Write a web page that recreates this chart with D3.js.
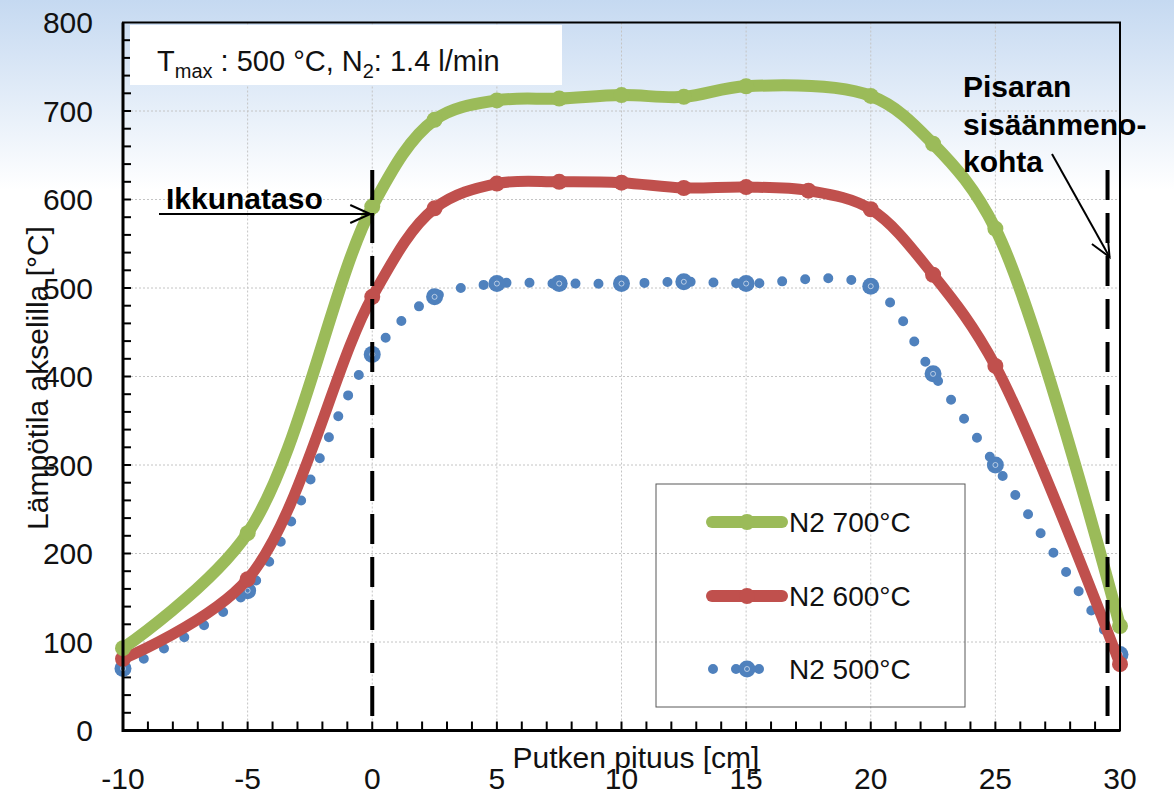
<!DOCTYPE html>
<html>
<head>
<meta charset="utf-8">
<script src="https://cdn.jsdelivr.net/npm/d3@7"></script>
<style>
    html, body { margin: 0; padding: 0; background: #fff; }
    svg { display: block; font-family: "Liberation Sans", Arial, sans-serif; }
</style>
</head>
<body>
<svg id="chart" width="1174" height="795"></svg>
<script>
var x700 = [-10, -5, 0, 2.5, 5, 7.5, 10, 12.5, 15, 20, 22.5, 25, 30];
var t700 = [93, 223, 592, 690, 712, 714, 718, 716, 728, 717, 663, 567, 118];

var x600 = [-10, -5, 0, 2.5, 5, 7.5, 10, 12.5, 15, 17.5, 20, 22.5, 25, 30];
var t600 = [81, 171, 490, 590, 618, 620, 619, 613, 614, 610, 589, 515, 412, 75];

var x500 = [-10, -5, 0, 2.5, 5, 7.5, 10, 12.5, 15, 20, 22.5, 25, 30];
var t500 = [70, 158, 425, 490, 505, 505, 505, 507, 505, 502, 403, 300, 86];

var seriesNames = ["N2 700°C", "N2 600°C", "N2 500°C"];
var xTicks = [-10, -5, 0, 5, 10, 15, 20, 25, 30];
var yTicks = [0, 100, 200, 300, 400, 500, 600, 700, 800];
var markLines = [0, 29.5];   // ikkunataso, pisaran sisäänmenokohta

(function() {
    var svg = d3.select("#chart");

    var left = 123, right = 1120, top = 22.5, bottom = 730.5;

    var x = d3.scaleLinear().domain([-10, 30]).range([left, right]);
    var y = d3.scaleLinear().domain([0, 800]).range([bottom, top]);

    var defs = svg.append("defs");

    var grad = defs.append("linearGradient")
        .attr("id", "bg")
        .attr("x1", 0).attr("y1", 0)
        .attr("x2", 0).attr("y2", 1);
    grad.append("stop").attr("offset", "0").attr("stop-color", "#c5d9f1");
    grad.append("stop").attr("offset", "0.24").attr("stop-color", "#ffffff");
    grad.append("stop").attr("offset", "1").attr("stop-color", "#ffffff");

    defs.append("marker")
        .attr("id", "arrow")
        .attr("markerUnits", "userSpaceOnUse")
        .attr("markerWidth", 30).attr("markerHeight", 30)
        .attr("viewBox", "-25 -15 30 30")
        .attr("refX", 0).attr("refY", 0)
        .attr("orient", "auto")
        .append("path")
        .attr("d", "M-20,-9L0,0L-20,9")
        .attr("fill", "none")
        .attr("stroke", "#000")
        .attr("stroke-width", 2);

    svg.append("rect")
        .attr("width", 1174).attr("height", 795)
        .attr("fill", "url(#bg)");

    // grid
    var grid = svg.append("g")
        .attr("stroke", "#c4c4c4")
        .attr("stroke-width", 1)
        .attr("stroke-dasharray", "2,2");

    grid.selectAll("line.gx")
        .data(xTicks.slice(1, -1))
        .enter().append("line")
        .attr("x1", d => x(d)).attr("x2", d => x(d))
        .attr("y1", top).attr("y2", bottom);

    grid.selectAll("line.gy")
        .data(yTicks.slice(1, -1))
        .enter().append("line")
        .attr("x1", left).attr("x2", right)
        .attr("y1", d => y(d)).attr("y2", d => y(d));

    // ticks, pointing inward
    var ticks = svg.append("g").attr("stroke", "#000").attr("stroke-width", 2);

    ticks.selectAll("line.tx")
        .data(d3.range(-9, 30, 1))
        .enter().append("line")
        .attr("x1", d => x(d)).attr("x2", d => x(d))
        .attr("y1", bottom).attr("y2", bottom - 9);

    ticks.selectAll("line.ty")
        .data(d3.range(20, 800, 20))
        .enter().append("line")
        .attr("x1", left).attr("x2", left + 8)
        .attr("y1", d => y(d)).attr("y2", d => y(d));

    // tick labels
    svg.append("g")
        .selectAll("text")
        .data(yTicks)
        .enter().append("text")
        .attr("x", 93)
        .attr("y", d => y(d))
        .attr("dy", "0.36em")
        .attr("text-anchor", "end")
        .attr("font-size", 30)
        .attr("fill", "#111")
        .text(d => d);

    svg.append("g")
        .selectAll("text")
        .data(xTicks)
        .enter().append("text")
        .attr("x", d => x(d))
        .attr("y", 789)
        .attr("text-anchor", "middle")
        .attr("font-size", 30)
        .attr("fill", "#111")
        .text(d => d);

    // axis titles
    svg.append("text")
        .attr("x", 636).attr("y", 768)
        .attr("text-anchor", "middle")
        .attr("font-size", 30)
        .attr("fill", "#111")
        .text("Putken pituus [cm]");

    svg.append("text")
        .attr("transform", "translate(48,378) rotate(-90)")
        .attr("text-anchor", "middle")
        .attr("font-size", 30)
        .attr("fill", "#111")
        .text("Lämpötila akselilla [°C]");

    // series
    var line = d3.line()
        .x(d => x(d[0]))
        .y(d => y(d[1]))
        .curve(d3.curveCatmullRom.alpha(0.5));

    var green = d3.zip(x700, t700);
    var red = d3.zip(x600, t600);
    var blue = d3.zip(x500, t500);

    var plot = svg.append("g");

    plot.append("path")
        .datum(blue)
        .attr("d", line)
        .attr("fill", "none")
        .attr("stroke", "#4f81bd")
        .attr("stroke-width", 10)
        .attr("stroke-linecap", "round")
        .attr("stroke-dasharray", "0 23");

    plot.selectAll("circle.b")
        .data(blue)
        .enter().append("circle")
        .attr("cx", d => x(d[0])).attr("cy", d => y(d[1]))
        .attr("r", 8.5)
        .attr("fill", "#4f81bd");

    plot.selectAll("circle.bi")
        .data(blue)
        .enter().append("circle")
        .attr("cx", d => x(d[0])).attr("cy", d => y(d[1]))
        .attr("r", 2.5)
        .attr("fill", "none")
        .attr("stroke", "#dfe8f4")
        .attr("stroke-width", 0.7);

    plot.append("path")
        .datum(red)
        .attr("d", line)
        .attr("fill", "none")
        .attr("stroke", "#c0504d")
        .attr("stroke-width", 11)
        .attr("stroke-linecap", "round")
        .attr("stroke-linejoin", "round");

    plot.selectAll("circle.r")
        .data(red)
        .enter().append("circle")
        .attr("cx", d => x(d[0])).attr("cy", d => y(d[1]))
        .attr("r", 8)
        .attr("fill", "#c0504d");

    plot.append("path")
        .datum(green)
        .attr("d", line)
        .attr("fill", "none")
        .attr("stroke", "#9bbb59")
        .attr("stroke-width", 12)
        .attr("stroke-linecap", "round")
        .attr("stroke-linejoin", "round");

    plot.selectAll("circle.g")
        .data(green)
        .enter().append("circle")
        .attr("cx", d => x(d[0])).attr("cy", d => y(d[1]))
        .attr("r", 8)
        .attr("fill", "#9bbb59");

    // legend
    var legend = svg.append("g");

    legend.append("rect")
        .attr("x", 656).attr("y", 484)
        .attr("width", 309).attr("height", 223)
        .attr("fill", "none")
        .attr("stroke", "#595959")
        .attr("stroke-width", 1);

    var legY = [522, 596, 669];
    var legColor = ["#9bbb59", "#c0504d", "#4f81bd"];

    [0, 1].forEach(function(i) {
        legend.append("line")
            .attr("x1", 712).attr("x2", 782)
            .attr("y1", legY[i]).attr("y2", legY[i])
            .attr("stroke", legColor[i])
            .attr("stroke-width", 12)
            .attr("stroke-linecap", "round");
        legend.append("circle")
            .attr("cx", 747).attr("cy", legY[i])
            .attr("r", 8)
            .attr("fill", legColor[i]);
    });

    legend.append("line")
        .attr("x1", 713).attr("x2", 770)
        .attr("y1", legY[2]).attr("y2", legY[2])
        .attr("stroke", legColor[2])
        .attr("stroke-width", 10)
        .attr("stroke-linecap", "round")
        .attr("stroke-dasharray", "0 23");
    legend.append("circle")
        .attr("cx", 747).attr("cy", legY[2])
        .attr("r", 8.5)
        .attr("fill", legColor[2]);
    legend.append("circle")
        .attr("cx", 747).attr("cy", legY[2])
        .attr("r", 2.5)
        .attr("fill", "none")
        .attr("stroke", "#dfe8f4")
        .attr("stroke-width", 0.7);

    legend.selectAll("text")
        .data(seriesNames)
        .enter().append("text")
        .attr("x", 789)
        .attr("y", (d, i) => legY[i] + 10)
        .attr("font-size", 28)
        .attr("fill", "#111")
        .text(d => d);

    // info box
    svg.append("rect")
        .attr("x", 130).attr("y", 25)
        .attr("width", 432).attr("height", 60)
        .attr("fill", "#fff");

    var info = svg.append("text")
        .attr("x", 157).attr("y", 71)
        .attr("font-size", 29)
        .attr("fill", "#111");
    info.append("tspan").text("T");
    info.append("tspan").attr("font-size", 20).attr("dy", 7).text("max");
    info.append("tspan").attr("dy", -7).text(" : 500 °C, N");
    info.append("tspan").attr("font-size", 20).attr("dy", 7).text("2");
    info.append("tspan").attr("dy", -7).text(": 1.4 l/min");

    // dashed marker lines
    svg.append("g")
        .selectAll("line")
        .data(markLines)
        .enter().append("line")
        .attr("x1", d => x(d)).attr("x2", d => x(d))
        .attr("y1", 170).attr("y2", bottom)
        .attr("stroke", "#000")
        .attr("stroke-width", 4)
        .attr("stroke-dasharray", "30,13");

    // annotations
    svg.append("text")
        .attr("x", 166).attr("y", 209)
        .attr("font-size", 30)
        .attr("font-weight", "bold")
        .text("Ikkunataso");

    svg.append("line")
        .attr("x1", 159).attr("y1", 214)
        .attr("x2", x(0) - 2).attr("y2", 214)
        .attr("stroke", "#000")
        .attr("stroke-width", 2)
        .attr("marker-end", "url(#arrow)");

    svg.append("text")
        .attr("font-size", 30)
        .attr("font-weight", "bold")
        .selectAll("tspan")
        .data(["Pisaran", "sisäänmeno-", "kohta"])
        .enter().append("tspan")
        .attr("x", 963)
        .attr("y", (d, i) => [97, 135, 172][i])
        .text(d => d);

    svg.append("line")
        .attr("x1", 1052).attr("y1", 154)
        .attr("x2", x(29.5) + 2).attr("y2", 257)
        .attr("stroke", "#000")
        .attr("stroke-width", 2)
        .attr("marker-end", "url(#arrow)");

    // plot frame
    svg.append("rect")
        .attr("x", left).attr("y", top)
        .attr("width", right - left).attr("height", bottom - top)
        .attr("fill", "none")
        .attr("stroke", "#000")
        .attr("stroke-width", 2);

    svg.append("path")
        .attr("d", "M" + left + "," + top + "V" + bottom + "H" + right)
        .attr("fill", "none")
        .attr("stroke", "#000")
        .attr("stroke-width", 3);
}());
</script>
</body>
</html>
